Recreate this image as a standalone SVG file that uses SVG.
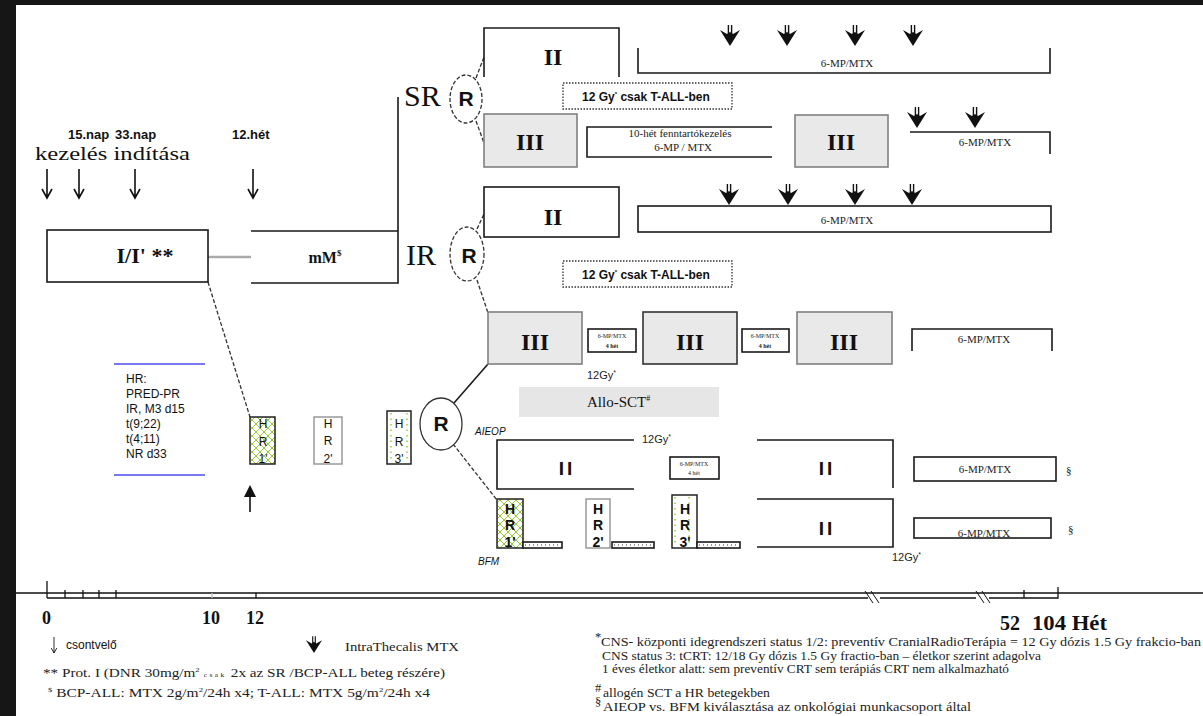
<svg xmlns="http://www.w3.org/2000/svg" width="1203" height="716" viewBox="0 0 1203 716">
<defs>
<style>
.bx{fill:#fff;stroke:#1a1a1a;stroke-width:1.6}
.gb{fill:#e9e9e9;stroke:#808080;stroke-width:1.6}
.ln{fill:none;stroke:#1a1a1a;stroke-width:1.6}
.dl{fill:none;stroke:#333;stroke-width:1.3;stroke-dasharray:4 2}
.dot{fill:#fff;stroke:#333;stroke-width:1.3;stroke-dasharray:1.5 1.5}
.rom{font-family:"Liberation Serif",serif;font-weight:bold;font-size:24px;text-anchor:middle;fill:#111}
.sf{font-family:"Liberation Serif",serif;fill:#111}
.ss{font-family:"Liberation Sans",sans-serif;fill:#111}
.hr{font-family:"Liberation Sans",sans-serif;font-size:12px;text-anchor:middle;fill:#111}
.hl{font-family:"Liberation Sans",sans-serif;font-size:14px;font-weight:bold;text-anchor:middle;fill:#111}
.mp{font-family:"Liberation Serif",serif;font-size:11px;text-anchor:middle;fill:#222}
.tiny{font-family:"Liberation Serif",serif;font-size:6px;text-anchor:middle;fill:#222}
.gy{font-family:"Liberation Sans",sans-serif;font-size:11px;fill:#222}
.cir{fill:#fff;stroke:#333;stroke-width:1.3;stroke-dasharray:4 2}
.rl{font-family:"Liberation Sans",sans-serif;font-weight:bold;font-size:21px;text-anchor:middle;fill:#111}
.big{font-family:"Liberation Serif",serif;font-size:30px;fill:#111}
.leg{font-family:"Liberation Serif",serif;font-size:12.5px;fill:#222}
.hii{font-family:"Liberation Sans",sans-serif;font-weight:bold;font-size:19px;text-anchor:middle;fill:#111;letter-spacing:3px}
</style>
<pattern id="xh" width="8" height="8" patternUnits="userSpaceOnUse"><rect width="8" height="8" fill="#fff"/><path d="M0,0L8,8M8,0L0,8" stroke="#9c3" stroke-width="1"/></pattern>
<g id="it"><path d="M-1.6,-21V-10M1.6,-21V-10" stroke="#111" stroke-width="1.4" fill="none"/><path d="M0,0L-10,-16L-3,-12L0,-14L3,-12L10,-16Z" fill="#111"/></g>
<g id="da"><path d="M0,-29V0M-5,-9L0,0L5,-9" stroke="#111" stroke-width="1.6" fill="none"/></g>
</defs>
<rect width="1203" height="716" fill="#161616"/>
<rect x="16" y="5" width="1187" height="711" fill="#fff"/>

<g id="connectors">
<path d="M208,257H251" stroke="#aaa" stroke-width="2.5" fill="none"/>
<path class="dl" d="M208,282L250,417"/>
<path class="dl" d="M476,78L484,57M476,121L484,143"/>
<path class="dl" d="M477,229L484,214M477,280L488,313"/>
<path class="ln" stroke-width="1.3" d="M454,403L488,364"/>
<path class="dl" d="M453,444L497,500"/>
</g>

<g id="start-labels">
<text class="ss" x="68" y="139" font-size="13" font-weight="bold">15.nap</text>
<text class="ss" x="115" y="139" font-size="13" font-weight="bold">33.nap</text>
<text class="ss" x="232" y="139" font-size="13" font-weight="bold">12.hét</text>
<text class="sf" x="35" y="160" font-size="18" textLength="155" lengthAdjust="spacingAndGlyphs">kezelés indítása</text>
<use href="#da" x="47" y="198"/>
<use href="#da" x="79" y="198"/>
<use href="#da" x="135" y="198"/>
<use href="#da" x="253" y="198"/>
</g>

<g id="node-induction">
<rect class="bx" x="47" y="230" width="161" height="52"/>
<text class="sf" x="145" y="263" font-size="22" font-weight="bold" text-anchor="middle">I/I' **</text>
</g>

<g id="node-mM">
<path class="ln" d="M251,231H398M251,283H398V97"/>
<text class="sf" x="325" y="263" font-size="16" font-weight="bold" text-anchor="middle">mM<tspan font-size="9" dy="-7">$</tspan></text>
</g>

<g id="node-SR">
<text class="big" x="404" y="106">SR</text>
<ellipse class="cir" cx="466" cy="99" rx="16" ry="24"/>
<text class="rl" x="466" y="106">R</text>
</g>

<g id="node-SR-II">
<path class="ln" d="M484,77V28H619V77"/>
<text class="rom" x="553" y="65">II</text>
</g>
<g id="node-SR-mp1">
<path class="ln" d="M638,48V73H1050V48"/>
<text class="mp" x="847" y="67" font-size="10">6-MP/MTX</text>
<use href="#it" x="730" y="46"/>
<use href="#it" x="787" y="46"/>
<use href="#it" x="855" y="46"/>
<use href="#it" x="913" y="46"/>
</g>
<g id="node-SR-gy">
<rect class="dot" x="563" y="83" width="169" height="26"/>
<text class="ss" x="582" y="101" font-size="12" font-weight="bold">12 Gy<tspan font-size="6" dy="-5">*</tspan><tspan dy="5"> csak T-ALL-ben</tspan></text>
</g>
<g id="node-SR-III">
<rect class="gb" x="484" y="114" width="93" height="53"/>
<text class="rom" x="530" y="150">III</text>
</g>
<g id="node-SR-maint">
<path class="ln" d="M772,127H587V157H772"/>
<text class="mp" x="680" y="137" font-size="8">10-hét fenntartókezelés</text>
<text class="mp" x="683" y="151">6-MP / MTX</text>
</g>
<g id="node-SR-III2">
<rect class="gb" x="795" y="115" width="93" height="52"/>
<text class="rom" x="841" y="150">III</text>
</g>
<g id="node-SR-mp2">
<path class="ln" d="M910,132H1050V154"/>
<text class="mp" x="985" y="146">6-MP/MTX</text>
<use href="#it" x="917" y="128"/>
<use href="#it" x="975" y="128"/>
</g>

<g id="node-IR">
<text class="big" x="406" y="265">IR</text>
<ellipse class="cir" cx="467" cy="254" rx="17" ry="27"/>
<text class="rl" x="469" y="263">R</text>
</g>
<g id="node-IR-II">
<rect class="bx" x="484" y="187" width="135" height="50"/>
<text class="rom" x="553" y="225">II</text>
</g>
<g id="node-IR-mp">
<rect class="bx" x="638" y="206" width="413" height="26"/>
<text class="mp" x="847" y="224">6-MP/MTX</text>
<use href="#it" x="729" y="205"/>
<use href="#it" x="788" y="205"/>
<use href="#it" x="855" y="205"/>
<use href="#it" x="912" y="205"/>
</g>
<g id="node-IR-gy">
<rect class="dot" x="563" y="261" width="169" height="26"/>
<text class="ss" x="582" y="279" font-size="12" font-weight="bold">12 Gy<tspan font-size="6" dy="-5">*</tspan><tspan dy="5"> csak T-ALL-ben</tspan></text>
</g>
<g id="node-IR-III1">
<rect class="gb" x="488" y="312" width="94" height="52"/>
<text class="rom" x="535" y="350">III</text>
</g>
<g id="node-IR-s1">
<rect class="bx" x="588" y="329" width="48" height="23"/>
<text class="tiny" x="612" y="338">6-MP/MTX</text>
<text class="tiny" x="612" y="348" font-size="7" font-weight="bold">4 hét</text>
</g>
<g id="node-IR-III2">
<rect x="643" y="312" width="94" height="52" fill="#e9e9e9" stroke="#333" stroke-width="1.6"/>
<text class="rom" x="690" y="350">III</text>
</g>
<g id="node-IR-s2">
<rect class="bx" x="742" y="329" width="47" height="23"/>
<text class="tiny" x="765" y="338">6-MP/MTX</text>
<text class="tiny" x="765" y="348" font-size="7" font-weight="bold">4 hét</text>
</g>
<g id="node-IR-III3">
<rect class="gb" x="797" y="312" width="95" height="52"/>
<text class="rom" x="844" y="350">III</text>
</g>
<g id="node-IR-mp2">
<path class="ln" d="M912,351V329H1052V351"/>
<text class="mp" x="984" y="343">6-MP/MTX</text>
</g>
<text class="gy" x="587" y="379">12Gy<tspan font-size="7" dy="-4">*</tspan></text>
<g id="node-allo">
<rect x="519" y="387" width="200" height="30" fill="#e6e6e6"/>
<text class="sf" x="587" y="407" font-size="15">Allo-SCT<tspan font-size="8" dy="-6">#</tspan></text>
</g>

<g id="node-HR-criteria">
<path d="M114,364H205M114,475H205" stroke="#7878f0" stroke-width="2" fill="none"/>
<text class="ss" x="126" y="383" font-size="12">HR:</text>
<text class="ss" x="126" y="398" font-size="12">PRED-PR</text>
<text class="ss" x="126" y="413" font-size="12">IR, M3 d15</text>
<text class="ss" x="126" y="428" font-size="12">t(9;22)</text>
<text class="ss" x="126" y="443" font-size="12">t(4;11)</text>
<text class="ss" x="126" y="458" font-size="12">NR d33</text>
</g>
<g id="node-HR1">
<rect x="250" y="417" width="25" height="47" fill="url(#xh)" stroke="#222" stroke-width="1.5"/>
<text class="hr" x="263" y="428">H</text><text class="hr" x="263" y="446">R</text><text class="hr" x="263" y="463">1'</text>
</g>
<g id="node-HR2">
<rect x="314" y="417" width="28" height="47" fill="#fff" stroke="#999" stroke-width="1.5"/>
<text class="hr" x="328" y="428">H</text><text class="hr" x="328" y="445">R</text><text class="hr" x="328" y="463">2'</text>
</g>
<g id="node-HR3">
<rect x="387" y="411" width="24" height="53" fill="#fff" stroke="#222" stroke-width="1.5"/>
<path d="M391,413V462M407,413V462" stroke="#9c3" stroke-width="1.5" stroke-dasharray="1.5 4" fill="none"/>
<text class="hr" x="399" y="428">H</text><text class="hr" x="399" y="446">R</text><text class="hr" x="399" y="463">3'</text>
</g>
<path d="M250,512V496" stroke="#111" stroke-width="1.6"/>
<path d="M250,485L244,497H256Z" fill="#111"/>

<g id="node-HR">
<ellipse cx="441" cy="424" rx="21" ry="26" fill="#fff" stroke="#333" stroke-width="1.3"/>
<text class="rl" x="441" y="431">R</text>
</g>
<text class="ss" x="475" y="435" font-size="10" font-style="italic">AIEOP</text>
<text class="ss" x="478" y="565" font-size="10" font-style="italic">BFM</text>

<g id="node-A-II">
<path class="ln" d="M634,440H497V489H634"/>
<text class="hii" x="567" y="475">II</text>
</g>
<text class="gy" x="642" y="443">12Gy<tspan font-size="7" dy="-4">*</tspan></text>
<g id="node-A-s">
<rect class="bx" x="670" y="457" width="49" height="22"/>
<text class="tiny" x="694" y="466">6-MP/MTX</text>
<text class="tiny" x="694" y="475">4 hét</text>
</g>
<g id="node-A-II2">
<path class="ln" d="M757,440H893V488"/>
<text class="hii" x="827" y="475">II</text>
</g>
<g id="node-A-mp">
<rect class="bx" x="914" y="457" width="142" height="24"/>
<text class="mp" x="985" y="473">6-MP/MTX</text>
<text class="sf" x="1066" y="474" font-size="11" fill="#666">§</text>
</g>

<g id="node-B-HR1">
<rect x="497" y="499" width="26" height="49" fill="url(#xh)" stroke="#222" stroke-width="1.5"/>
<rect class="bx" x="523" y="542" width="39" height="6"/>
<path d="M525,545H561" stroke="#333" stroke-dasharray="1 3"/>
<text class="hl" x="510" y="514">H</text><text class="hl" x="510" y="530">R</text><text class="hl" x="510" y="547">1'</text>
</g>
<g id="node-B-HR2">
<rect x="586" y="499" width="24" height="49" fill="#fff" stroke="#999" stroke-width="1.5"/>
<rect class="bx" x="612" y="542" width="42" height="6"/>
<path d="M614,545H653" stroke="#333" stroke-dasharray="1 3"/>
<text class="hl" x="598" y="514">H</text><text class="hl" x="598" y="530">R</text><text class="hl" x="598" y="547">2'</text>
</g>
<g id="node-B-HR3">
<rect x="672" y="495" width="25" height="53" fill="#fff" stroke="#222" stroke-width="1.5"/>
<path d="M675,497V546M689,497V546" stroke="#9c3" stroke-width="1.5" stroke-dasharray="1.5 4" fill="none"/>
<rect class="bx" x="697" y="542" width="43" height="6"/>
<path d="M699,545H739" stroke="#333" stroke-dasharray="1 3"/>
<text class="hl" x="685" y="514">H</text><text class="hl" x="685" y="530">R</text><text class="hl" x="685" y="547">3'</text>
</g>
<g id="node-B-II">
<path class="ln" d="M757,499H893V547H757"/>
<text class="hii" x="827" y="535">II</text>
</g>
<text class="gy" x="892" y="561">12Gy<tspan font-size="7" dy="-4">*</tspan></text>
<g id="node-B-mp">
<rect class="bx" x="914" y="518" width="137" height="20"/>
<text class="mp" x="984" y="537">6-MP/MTX</text>
<text class="sf" x="1068" y="533" font-size="11" fill="#666">§</text>
</g>

<g id="timeline">
<path d="M16,593H1203" stroke="#111" stroke-width="1.3"/>
<path d="M47,598H868M880,598H976M989,598H1058V587M47,581V598M65,590V598M83,590V598M99,590V598M116,590V598M256,593V598M1024,590V598" stroke="#111" stroke-width="1.3" fill="none"/>
<path d="M212,593V598" stroke="#bbb" stroke-width="1.3"/>
<path d="M865,591L873,603M871,591L879,603M976,591L984,603M982,591L990,603" stroke="#111" stroke-width="1"/>
<text class="sf" x="42" y="624" font-size="18" font-weight="bold">0</text>
<text class="sf" x="202" y="624" font-size="18" font-weight="bold">10</text>
<text class="sf" x="246" y="624" font-size="18" font-weight="bold">12</text>
<text class="sf" x="1000" y="630" font-size="20" font-weight="bold">52</text>
<text class="sf" x="1032" y="630" font-size="20" font-weight="bold" textLength="75" lengthAdjust="spacingAndGlyphs">104 Hét</text>
</g>

<g id="legend">
<use href="#da" transform="translate(54,653) scale(0.55)"/>
<text class="ss" x="66" y="649" font-size="12" fill="#333">csontvelő</text>
<use href="#it" transform="translate(314,653) scale(0.8)"/>
<text class="leg" x="345" y="651" font-size="11.5" textLength="114" lengthAdjust="spacingAndGlyphs">IntraThecalis MTX</text>
<text class="leg" x="43" y="677" font-size="13" textLength="402" lengthAdjust="spacingAndGlyphs">** Prot. I (DNR 30mg/m<tspan font-size="7" dy="-5">2</tspan><tspan dy="5" font-size="6" letter-spacing="2"> csak </tspan> 2x az SR /BCP-ALL beteg részére)</text>
<text class="leg" x="48" y="697" font-size="13" textLength="382" lengthAdjust="spacingAndGlyphs"><tspan font-size="7" dy="-5">$</tspan><tspan dy="5"> BCP-ALL: MTX 2g/m</tspan><tspan font-size="7" dy="-5">2</tspan><tspan dy="5">/24h x4; T-ALL: MTX 5g/m</tspan><tspan font-size="7" dy="-5">2</tspan><tspan dy="5">/24h x4</tspan></text>
<text class="leg" x="595" y="641" font-size="7">*</text>
<text class="leg" x="601" y="646" textLength="600" lengthAdjust="spacingAndGlyphs">CNS- központi idegrendszeri status 1/2: preventív CranialRadioTerápia = 12 Gy dózis 1.5 Gy frakcio-ban</text>
<text class="leg" x="602" y="660" textLength="439" lengthAdjust="spacingAndGlyphs">CNS status 3: tCRT: 12/18 Gy dózis 1.5 Gy fractio-ban – életkor szerint adagolva</text>
<text class="leg" x="602" y="673" textLength="407" lengthAdjust="spacingAndGlyphs">1 éves életkor alatt: sem preventív CRT sem terápiás CRT nem alkalmazható</text>
<text class="leg" x="595" y="692" font-size="7">#</text>
<text class="leg" x="603" y="697" textLength="167" lengthAdjust="spacingAndGlyphs">allogén SCT a HR betegekben</text>
<text class="leg" x="595" y="706" font-size="7">§</text>
<text class="leg" x="603" y="711" textLength="368" lengthAdjust="spacingAndGlyphs">AIEOP vs. BFM kiválasztása az onkológiai munkacsoport által</text>
</g>
</svg>
